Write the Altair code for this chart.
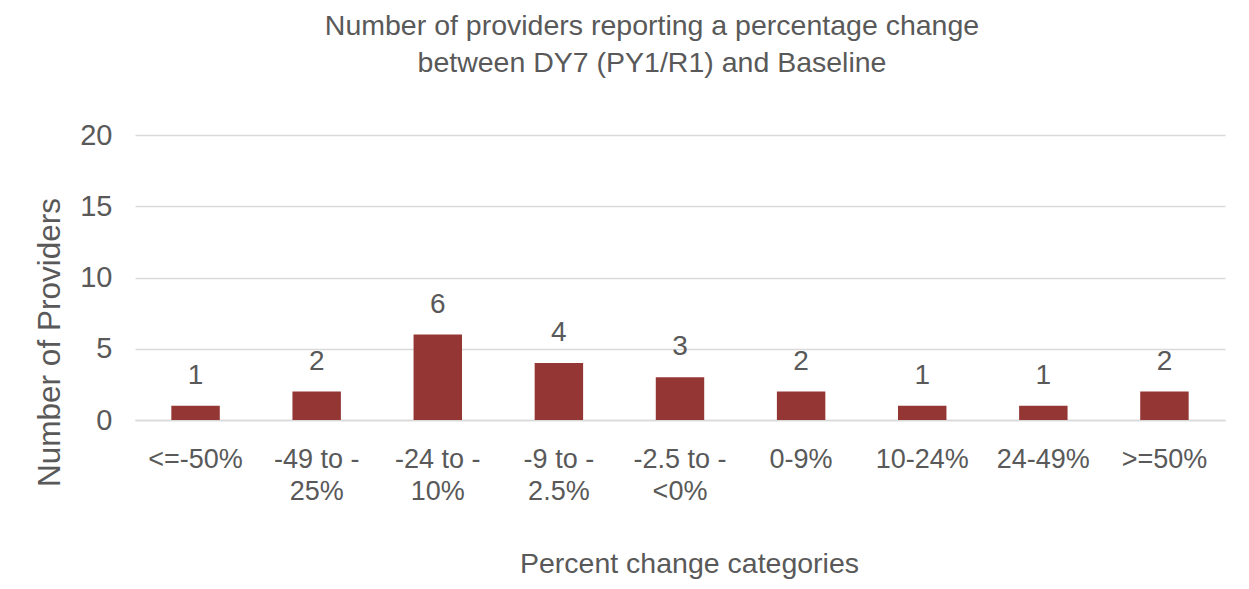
import altair as alt
import pandas as pd

categories = ["<=-50%", "-49 to -\n25%", "-24 to -\n10%", "-9 to -\n2.5%", "-2.5 to -\n<0%",
              "0-9%", "10-24%", "24-49%", ">=50%"]
providers = [1, 2, 6, 4, 3, 2, 1, 1, 2]

df = pd.DataFrame({"cat": categories, "n": providers})

FONT = "Liberation Sans, Arial"
GREY = "#595959"

base = alt.Chart(df).encode(
    x=alt.X("cat:N", sort=categories, title="Percent change categories",
            scale=alt.Scale(paddingInner=0.6, paddingOuter=0.3),
            axis=alt.Axis(labelExpr="split(datum.label, '\\n')", labelAngle=0,
                          labelFontSize=27, labelLineHeight=32, labelPadding=26,
                          ticks=False, domain=True, domainColor="#d9d9d9", domainWidth=1.5,
                          labelColor=GREY, titleColor=GREY, titleFontSize=28.5,
                          titleFontWeight="normal", titleX=554, titleY=143,
                          titleBaseline="middle", titleAlign="center",
                          labelFont=FONT, titleFont=FONT)),
    y=alt.Y("n:Q", title="Number of Providers",
            scale=alt.Scale(domain=[0, 20]),
            axis=alt.Axis(values=[0, 5, 10, 15, 20], grid=True, gridColor="#d9d9d9", gridWidth=1.5,
                          domain=False, ticks=False, labelFontSize=29, labelPadding=23,
                          labelColor=GREY, titleColor=GREY, titleFontSize=31.5,
                          titleFontWeight="normal", titleX=-85, titleY=207,
                          titleBaseline="middle", titleAlign="center",
                          labelFont=FONT, titleFont=FONT)),
)

bars = base.mark_bar(color="#943634")
labels = base.mark_text(dy=-30, fontSize=28, color=GREY, font=FONT).encode(text="n:Q")

chart = (bars + labels).properties(
    width=1090, height=285,
    autosize=alt.AutoSizeParams(type="none"),
    padding={"left": 127, "top": 127, "right": 16, "bottom": 161},
    title=alt.TitleParams(
        ["Number of providers reporting a percentage change", "between DY7 (PY1/R1) and Baseline"],
        anchor="middle", fontSize=28.5, fontWeight="normal", color=GREY, font=FONT,
        lineHeight=37, offset=44, dx=-28),
).configure_view(stroke=None)

chart.save("out.html", embed_options={"renderer": "svg", "actions": False})
